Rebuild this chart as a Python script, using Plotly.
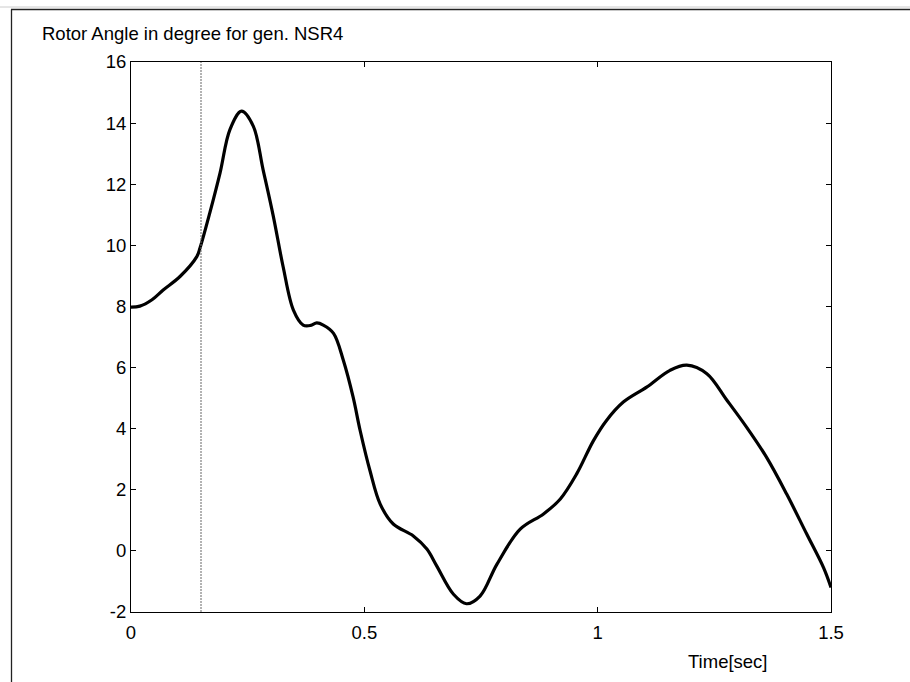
import plotly.graph_objects as go

# Rotor angle trace of generator NSR4 after the disturbance
time_s = [0.000, 0.019, 0.045, 0.069, 0.105, 0.141, 0.148, 0.169, 0.191, 0.212,
          0.237, 0.262, 0.283, 0.305, 0.326, 0.348, 0.369, 0.385, 0.398, 0.412,
          0.434, 0.455, 0.476, 0.491, 0.512, 0.534, 0.562, 0.605, 0.634, 0.655,
          0.691, 0.719, 0.748, 0.784, 0.834, 0.884, 0.920, 0.955, 0.991, 1.019,
          1.055, 1.105, 1.155, 1.191, 1.234, 1.277, 1.319, 1.362, 1.405, 1.448,
          1.484, 1.500]
angle_deg = [7.98, 8.01, 8.22, 8.54, 8.98, 9.63, 9.92, 11.07, 12.38, 13.79,
             14.39, 13.90, 12.48, 10.95, 9.30, 7.88, 7.39, 7.38, 7.46, 7.39,
             7.12, 6.24, 5.03, 3.94, 2.63, 1.53, 0.88, 0.49, 0.06, -0.49,
             -1.42, -1.73, -1.48, -0.44, 0.71, 1.21, 1.70, 2.52, 3.61, 4.27,
             4.87, 5.36, 5.91, 6.08, 5.80, 4.93, 4.05, 3.06, 1.86, 0.55,
             -0.55, -1.20]

fault_time = 0.15
x_ticks = [0, 0.5, 1, 1.5]
x_tick_text = ["0", "0.5", "1", "1.5"]
y_ticks = [-2, 0, 2, 4, 6, 8, 10, 12, 14, 16]
y_tick_text = ["-2", "0", "2", "4", "6", "8", "10", "12", "14", "16"]

title_text = "Rotor Angle in degree for gen. NSR4"
xlabel_text = "Time[sec]"

W, H = 910, 682
L, R, T, B = 131, 831, 62, 612  # plot area in pixels


def px(x):
    return (x - L) / (R - L)


def py(y):
    return (B - y) / (B - T)


FONT = dict(family="Arial, Liberation Sans, sans-serif", size=18.5, color="black")

fig = go.Figure()
fig.add_trace(go.Scatter(
    x=time_s, y=angle_deg, mode="lines",
    line=dict(color="black", width=3.2, shape="spline", smoothing=1.0),
    hoverinfo="skip", showlegend=False,
))

# fault instant marker
fig.add_shape(type="line", xref="x", yref="paper", x0=fault_time, x1=fault_time,
              y0=0, y1=1, line=dict(color="#666666", width=1, dash="2px,1px"))

# figure frame lines
fig.add_shape(type="line", xref="paper", yref="paper",
              x0=px(11), x1=px(910), y0=py(9.5), y1=py(9.5),
              line=dict(color="#222222", width=1.3))
fig.add_shape(type="line", xref="paper", yref="paper",
              x0=px(11.5), x1=px(11.5), y0=py(9.5), y1=py(682),
              line=dict(color="#222222", width=1.3))
fig.add_shape(type="line", xref="paper", yref="paper",
              x0=px(0), x1=px(910), y0=py(7), y1=py(7),
              line=dict(color="#cccccc", width=1))

fig.add_annotation(text=title_text, xref="paper", yref="paper",
                   x=px(40), y=py(33), xanchor="left", yanchor="middle",
                   showarrow=False, font=FONT)
fig.add_annotation(text=xlabel_text, xref="paper", yref="paper",
                   x=px(728), y=py(661), xanchor="center", yanchor="middle",
                   showarrow=False, font=FONT)

axis_common = dict(
    showline=True, linecolor="black", linewidth=1, mirror="ticks",
    ticks="inside", ticklen=5, tickcolor="black", tickwidth=1,
    showgrid=False, zeroline=False, tickfont=FONT,
)

fig.update_layout(
    width=W, height=H,
    margin=dict(l=L, r=W - R, t=T, b=H - B, pad=0),
    paper_bgcolor="white", plot_bgcolor="white",
    xaxis=dict(range=[0, 1.5], tickvals=x_ticks, ticktext=x_tick_text,
               ticklabelstandoff=4, **axis_common),
    yaxis=dict(range=[-2, 16], tickvals=y_ticks, ticktext=y_tick_text,
               **axis_common),
)

fig.write_html("out.html")
